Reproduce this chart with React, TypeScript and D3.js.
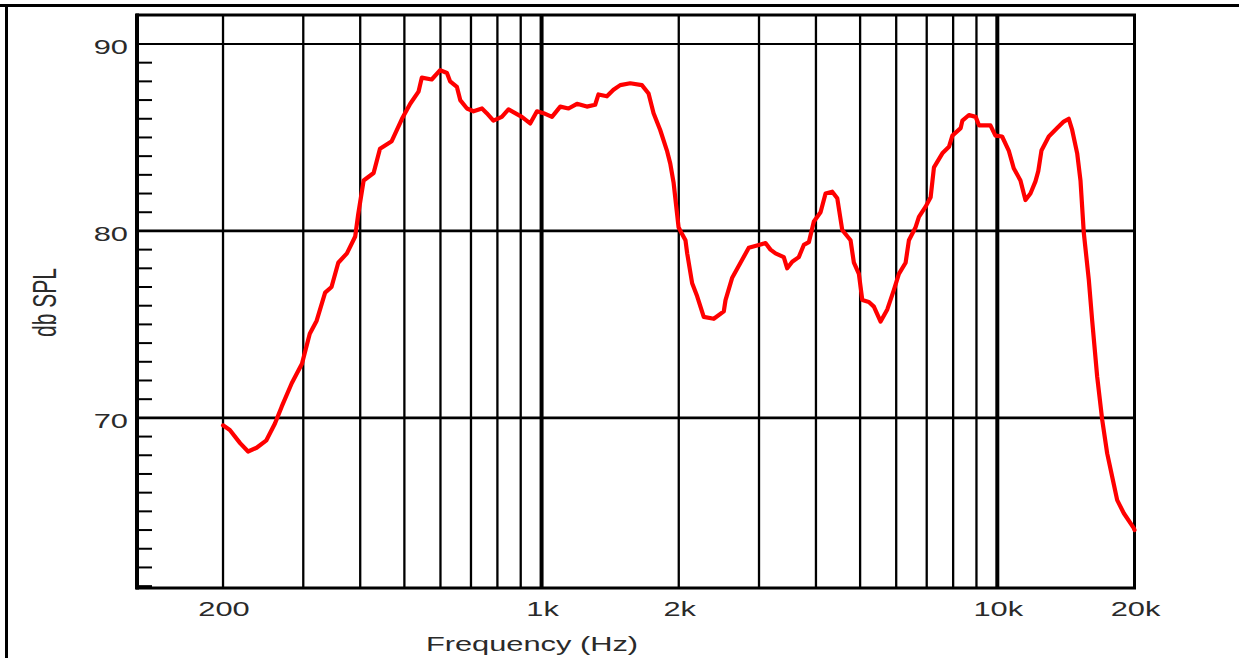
import React from 'react';
import * as d3 from 'd3';

// Measured response (Hz, dB SPL)
const FREQ = [
  200, 207, 218, 227, 237, 249, 260, 269, 283, 298, 310, 321, 335, 346, 358, 374, 390, 396, 407, 428,
  442, 469, 494, 515, 537, 546, 574, 599, 620, 630, 652, 663, 686, 709, 740, 758, 784, 818, 846, 875,
  905, 944, 977, 1010, 1054, 1099, 1146, 1196, 1257, 1311, 1333, 1391, 1438, 1488, 1565, 1660, 1717, 1761, 1821, 1884,
  1916, 1948, 1998, 2017, 2069, 2087, 2140, 2195, 2269, 2387, 2511, 2533, 2620, 2732, 2849, 2997, 3100, 3179, 3261, 3400,
  3459, 3548, 3668, 3762, 3859, 3958, 4094, 4199, 4343, 4455, 4568, 4764, 4845, 4969, 5055, 5226, 5360, 5545, 5736, 5931,
  6082, 6292, 6398, 6618, 6730, 6962, 7140, 7261, 7576, 7833, 7969, 8310, 8382, 8666, 8964, 9115, 9658, 9905, 10246, 10594,
  10865, 11240, 11528, 11823, 12126, 12300, 12500, 12970, 13531, 13991, 14348, 14597, 14971, 15223, 15480, 15875, 16150, 16564, 16988, 17422,
  17868, 18326, 18949, 19930, 20000,
];
const SPL = [
  69.6, 69.35, 68.65, 68.2, 68.4, 68.8, 69.7, 70.6, 71.85, 72.9, 74.5, 75.2, 76.7, 77.0, 78.3, 78.8, 79.7, 80.9, 82.7, 83.1,
  84.4, 84.8, 86.0, 86.8, 87.45, 88.2, 88.1, 88.6, 88.45, 88.0, 87.7, 87.0, 86.55, 86.4, 86.55, 86.3, 85.9, 86.1, 86.5, 86.3,
  86.1, 85.75, 86.4, 86.3, 86.1, 86.65, 86.55, 86.8, 86.65, 86.75, 87.3, 87.2, 87.55, 87.8, 87.9, 87.8, 87.35, 86.3, 85.4, 84.3,
  83.6, 82.6, 80.2, 80.0, 79.5, 78.8, 77.2, 76.5, 75.4, 75.3, 75.7, 76.3, 77.5, 78.3, 79.1, 79.25, 79.35, 79.0, 78.8, 78.6,
  78.0, 78.35, 78.6, 79.25, 79.4, 80.5, 81.0, 82.0, 82.1, 81.75, 80.05, 79.5, 78.3, 77.7, 76.3, 76.2, 75.95, 75.15, 75.8, 76.85,
  77.7, 78.3, 79.5, 80.2, 80.75, 81.3, 81.8, 83.4, 84.15, 84.5, 85.1, 85.5, 85.9, 86.2, 86.1, 85.65, 85.65, 85.1, 85.05, 84.3,
  83.35, 82.7, 81.65, 82.0, 82.65, 83.2, 84.3, 85.05, 85.5, 85.85, 86.0, 85.4, 84.15, 82.7, 79.9, 77.4, 75.2, 72.2, 69.9, 68.1,
  66.85, 65.6, 64.9, 64.1, 64.0,
];

const GRID_FREQS = [200, 300, 400, 500, 600, 700, 800, 900, 1000, 2000, 3000, 4000, 5000, 6000, 7000, 8000, 9000, 10000];
const MAJOR_FREQS = [1000, 10000];
const X_TICK_FREQS = [200, 1000, 2000, 10000, 20000];
const X_TICK_TEXT = ['200', '1k', '2k', '10k', '20k'];
const Y_GRID = [70, 80, 90];
const Y_GRID_TEXT = ['70', '80', '90'];
const Y_DOMAIN = [60.9, 91.55];
const X_DOMAIN = [129.5, 20000];
const X_TITLE = 'Frequency (Hz)';
const Y_TITLE = 'db SPL';

const W = 1239;
const H = 658;
const L = 137;
const R = 1134.5;
const T = 15;
const B = 588;
const SX = 1.58;
const FONT = '"Liberation Sans", Arial, sans-serif';

export default function App() {
  const x = d3.scaleLog().domain(X_DOMAIN).range([L, R]);
  const y = d3.scaleLinear().domain(Y_DOMAIN).range([B, T]);
  const minor = d3.range(61, 90).filter((v) => !Y_GRID.includes(v));
  const data = FREQ.map((f, i) => [f, SPL[i]] as [number, number]);
  const line = d3
    .line<[number, number]>()
    .x((d) => x(d[0]))
    .y((d) => y(d[1]))
    .curve(d3.curveLinear);

  return (
    <svg
      width={W}
      height={H}
      style={{ position: 'fixed', left: 0, top: 0, background: '#fff' }}
      fontFamily={FONT}
    >
      <rect x={0} y={0} width={W} height={H} fill="#fff" />
      {/* outer frame */}
      <line x1={0} x2={W} y1={5.5} y2={5.5} stroke="#000" strokeWidth={3} />
      <line x1={6.5} x2={6.5} y1={4} y2={H} stroke="#000" strokeWidth={3} />

      {/* vertical grid */}
      {GRID_FREQS.map((f) => (
        <line
          key={'v' + f}
          x1={x(f)}
          x2={x(f)}
          y1={T}
          y2={B}
          stroke="#000"
          strokeWidth={MAJOR_FREQS.includes(f) ? 4 : 2.3}
        />
      ))}
      {/* horizontal grid */}
      {Y_GRID.map((v) => (
        <line
          key={'h' + v}
          x1={L}
          x2={R}
          y1={y(v)}
          y2={y(v)}
          stroke="#000"
          strokeWidth={v === 90 ? 2 : 2.8}
        />
      ))}
      {/* minor y ticks */}
      {minor.map((v) => (
        <line key={'m' + v} x1={L} x2={L + 15} y1={y(v)} y2={y(v)} stroke="#000" strokeWidth={2} />
      ))}
      {/* plot frame */}
      <line x1={L - 1} x2={R + 1.5} y1={T} y2={T} stroke="#000" strokeWidth={3} />
      <line x1={L - 1} x2={R + 1.5} y1={B} y2={B} stroke="#000" strokeWidth={3} />
      <line x1={R} x2={R} y1={T} y2={B} stroke="#000" strokeWidth={3} />
      <line x1={L} x2={L} y1={T - 1.5} y2={B + 1.5} stroke="#000" strokeWidth={4} />

      {/* curve */}
      <path
        d={line(data) || ''}
        fill="none"
        stroke="#ff0000"
        strokeWidth={4.2}
        strokeLinejoin="round"
        strokeLinecap="round"
      />

      {/* y labels */}
      {Y_GRID.map((v, i) => (
        <text
          key={'yl' + v}
          transform={`translate(128,${y(v) + 10.5}) scale(${SX},1)`}
          textAnchor="end"
          fontSize={19.5}
          fill="#2a2a2a"
        >
          {Y_GRID_TEXT[i]}
        </text>
      ))}
      {/* x labels */}
      {X_TICK_FREQS.map((f, i) => (
        <text
          key={'xl' + f}
          transform={`translate(${x(f) + 1},616) scale(${SX},1)`}
          textAnchor="middle"
          fontSize={19.5}
          fill="#2a2a2a"
        >
          {X_TICK_TEXT[i]}
        </text>
      ))}
      <text
        transform={`translate(532,651) scale(${SX},1)`}
        textAnchor="middle"
        fontSize={19.5}
        fill="#2a2a2a"
      >
        {X_TITLE}
      </text>
      <text
        transform={`translate(56,302.5) scale(${SX},1) rotate(-90)`}
        textAnchor="middle"
        fontSize={21}
        fill="#2a2a2a"
      >
        {Y_TITLE}
      </text>
    </svg>
  );
}
